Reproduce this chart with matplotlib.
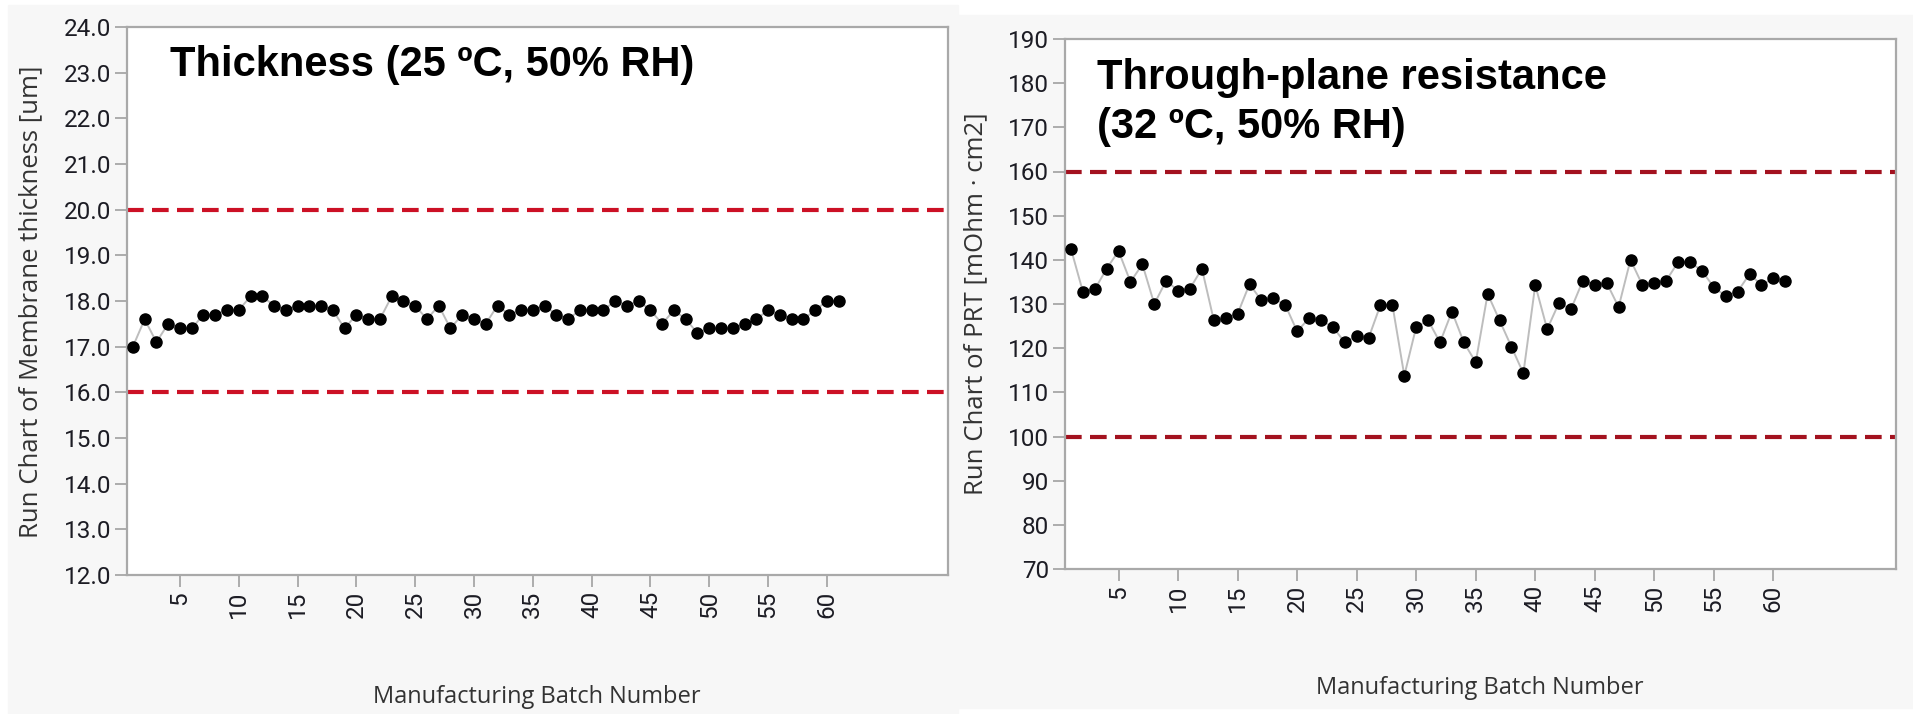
import numpy as np
import matplotlib
matplotlib.use("Agg")
import matplotlib.pyplot as plt
from matplotlib.patches import Rectangle

# ---- data ----
batch = list(range(1, 62))

thickness = [17.0, 17.6, 17.1, 17.5, 17.4, 17.4, 17.7, 17.7, 17.8, 17.8,
             18.1, 18.1, 17.9, 17.8, 17.9, 17.9, 17.9, 17.8, 17.4, 17.7,
             17.6, 17.6, 18.1, 18.0, 17.9, 17.6, 17.9, 17.4, 17.7, 17.6,
             17.5, 17.9, 17.7, 17.8, 17.8, 17.9, 17.7, 17.6, 17.8, 17.8,
             17.8, 18.0, 17.9, 18.0, 17.8, 17.5, 17.8, 17.6, 17.3, 17.4,
             17.4, 17.4, 17.5, 17.6, 17.8, 17.7, 17.6, 17.6, 17.8, 18.0,
             18.0]

prt = [142.5, 132.8, 133.3, 138.0, 142.0, 135.0, 139.0, 130.0, 135.3, 133.0,
       133.5, 138.0, 126.3, 126.8, 127.8, 134.5, 130.8, 131.3, 129.8, 123.8,
       126.8, 126.3, 124.8, 121.3, 122.8, 122.3, 129.8, 129.8, 113.8, 124.8,
       126.3, 121.3, 128.3, 121.3, 116.8, 132.3, 126.3, 120.3, 114.3, 134.3,
       124.3, 130.3, 128.8, 135.3, 134.3, 134.8, 129.3, 140.0, 134.3, 134.8,
       135.3, 139.5, 139.5, 137.5, 133.8, 131.8, 132.8, 136.8, 134.3, 135.8,
       135.3]

thick_limits = [16.0, 20.0]
prt_limits = [100, 160]
thick_ticks = np.arange(12.0, 24.01, 1.0)
prt_ticks = np.arange(70, 191, 10)
x_ticks = list(range(5, 61, 5))

TICK_FONT = ["Roboto", "DejaVu Sans"]
LABEL_FONT = ["Open Sans", "DejaVu Sans"]
TITLE_FONT = ["Liberation Sans", "DejaVu Sans"]
W, H = 1913, 714


def fx(px):
    return px / W


def fy(py):
    return 1 - py / H


def style_axes(ax, yticks, ylim, fmt):
    ax.set_facecolor("white")
    for s in ax.spines.values():
        s.set_color("#a9a9a9"); s.set_linewidth(1.6)
    ax.set_xlim(0.5, 70.3)
    ax.set_ylim(*ylim)
    ax.set_xticks(x_ticks)
    ax.set_xticklabels([str(t) for t in x_ticks], rotation=90,
                       family=TICK_FONT, fontsize=17.5, color="#1c1c24")
    ax.set_yticks(yticks)
    ax.set_yticklabels([fmt.format(t) for t in yticks],
                       family=TICK_FONT, fontsize=17.5, color="#1c1c24")
    ax.tick_params(direction="out", length=8.5, width=1.2, color="#a0a0a0", pad=3)


def run_chart(ax, y, limits, lcolor):
    ax.plot(batch, y, color="#bdbdbd", lw=1.4, zorder=2)
    ax.plot(batch, y, "o", color="black", ms=8, zorder=3)
    for v in limits:
        ax.axhline(v, color=lcolor, lw=3, dashes=(4, 2), zorder=1)


fig = plt.figure(figsize=(W / 100, H / 100), dpi=100)
fig.patch.set_facecolor("white")
fig.patches.append(Rectangle((fx(8), 0), fx(950), 1 - 5 / H,
                             transform=fig.transFigure, color="#f7f7f7", zorder=-1))
fig.patches.append(Rectangle((fx(958), 6 / H), fx(955), (708 - 15) / H,
                             transform=fig.transFigure, color="#f7f7f7", zorder=-1))

# left: thickness
ax1 = fig.add_axes([fx(127), fy(575), fx(948 - 127), (575 - 27) / H])
run_chart(ax1, thickness, thick_limits, "#cc1125")
style_axes(ax1, thick_ticks, (12.0, 24.0), "{:.1f}")

# right: PRT
ax2 = fig.add_axes([fx(1065), fy(569), fx(1896 - 1065), (569 - 39) / H])
run_chart(ax2, prt, prt_limits, "#a3121f")
style_axes(ax2, prt_ticks, (70, 190), "{:.0f}")

# panel titles
title_kw = dict(fontsize=30, fontweight="bold", family=TITLE_FONT,
                va="center", ha="left")
fig.text(fx(170), fy(65), "Thickness (25 ºC, 50% RH)", **title_kw)
fig.text(fx(1097), fy(78), "Through-plane resistance", **title_kw)
fig.text(fx(1097), fy(127), "(32 ºC, 50% RH)", **title_kw)

# axis labels
lab_kw = dict(family=LABEL_FONT, color="#333333", ha="center", va="center")
fig.text(fx(31), fy(302), "Run Chart of Membrane thickness [um]",
         rotation=90, fontsize=18.5, **lab_kw)
fig.text(fx(976), fy(304), "Run Chart of PRT [mOhm · cm2]",
         rotation=90, fontsize=18.5, **lab_kw)
fig.text(fx(537), fy(697), "Manufacturing Batch Number", fontsize=17, **lab_kw)
fig.text(fx(1480), fy(688), "Manufacturing Batch Number", fontsize=17, **lab_kw)

fig.savefig("out.png", dpi=100)
